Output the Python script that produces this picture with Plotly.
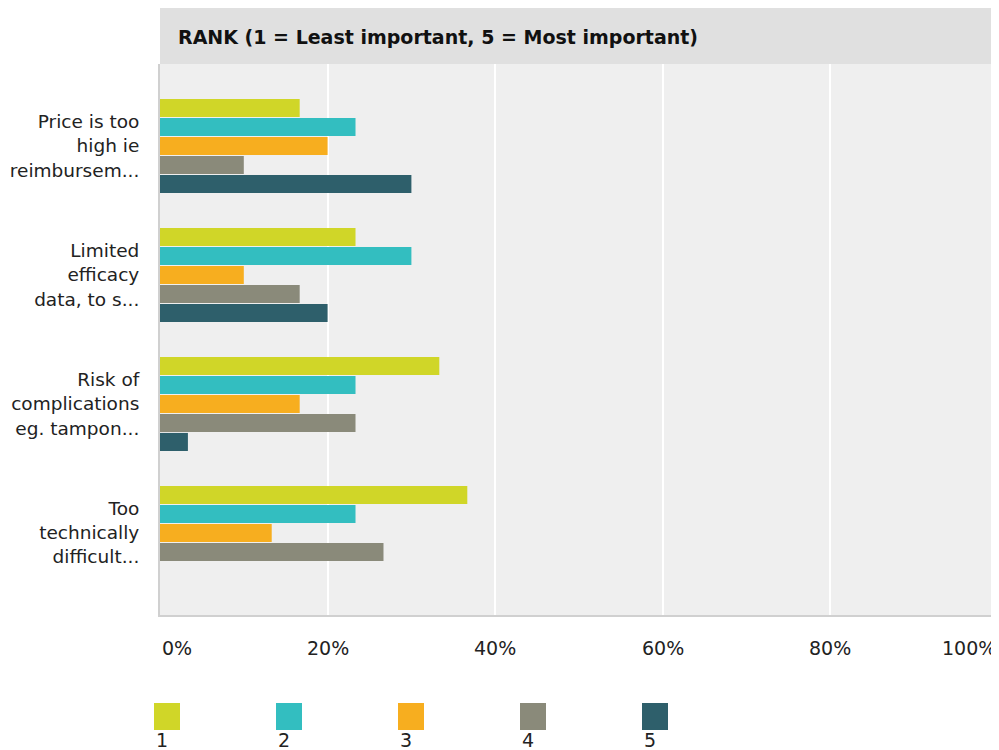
import plotly.graph_objects as go

categories = [
    "Price is too<br>high ie<br>reimbursem...",
    "Limited<br>efficacy<br>data, to s...",
    "Risk of<br>complications<br>eg. tampon...",
    "Too<br>technically<br>difficult...",
]
series_names = ["1", "2", "3", "4", "5"]
rank1 = [16.67, 23.33, 33.33, 36.67]
rank2 = [23.33, 30.0, 23.33, 23.33]
rank3 = [20.0, 10.0, 16.67, 13.33]
rank4 = [10.0, 16.67, 23.33, 26.67]
rank5 = [30.0, 20.0, 3.33, 0.0]
series_values = [rank1, rank2, rank3, rank4, rank5]
colors = ["#D0D628", "#33BEC0", "#F7AE1F", "#8A8A7A", "#2E5F6B"]
tick_vals = [0, 20, 40, 60, 80, 100]
tick_text = ["0%", "20%", "40%", "60%", "80%", "100%"]
title_text = "RANK (1 = Least important, 5 = Most important)"

# page body has an 8px margin; figure sized to fill the rest of the window
OFF = 8
W, H = 991, 742
L, R, T, B = 152, 1, 56, 135
PW = W - L - R
PH = H - T - B
FONT = "DejaVu Sans"


def px_x(p):
    return (p - OFF - L) / PW


def px_y(p):
    return (H - B - (p - OFF)) / PH


fig = go.Figure()
for name, vals, col in zip(series_names, series_values, colors):
    fig.add_trace(go.Bar(
        y=categories, x=vals, name=name, orientation="h",
        marker=dict(color=col, line=dict(width=0)),
        showlegend=False, hoverinfo="x+name",
    ))

shapes = [
    dict(type="rect", xref="paper", yref="paper", x0=0, x1=1,
         y0=1.0, y1=px_y(8), fillcolor="#E0E0E0", line=dict(width=0), layer="below"),
]
annotations = [
    dict(text="<b>" + title_text + "</b>", xref="paper", yref="paper",
         x=px_x(176), y=px_y(37), xanchor="left", yanchor="middle",
         showarrow=False, font=dict(family=FONT, size=19, color="#111111")),
]
for i, (tv, tt) in enumerate(zip(tick_vals, tick_text)):
    anchor = "left" if i == 0 else ("right" if i == len(tick_vals) - 1 else "center")
    annotations.append(dict(text=tt, xref="x", yref="paper", x=tv, y=px_y(648),
                            xanchor=anchor, yanchor="middle", showarrow=False,
                            font=dict(family=FONT, size=19, color="#222222")))
for i, (name, col) in enumerate(zip(series_names, colors)):
    x0 = 154 + i * 122
    shapes.append(dict(type="rect", xref="paper", yref="paper",
                       x0=px_x(x0), x1=px_x(x0 + 26), y0=px_y(730), y1=px_y(703),
                       fillcolor=col, line=dict(width=0)))
    annotations.append(dict(text=name, xref="paper", yref="paper", x=px_x(x0),
                            y=px_y(740), xanchor="left", yanchor="middle", showarrow=False,
                            font=dict(family=FONT, size=19, color="#222222")))

fig.update_layout(
    width=W, height=H,
    margin=dict(l=L, r=R, t=T, b=B, pad=0, autoexpand=False),
    paper_bgcolor="white", plot_bgcolor="#EFEFEF",
    barmode="group", bargap=0.264, bargroupgap=0.05,
    font=dict(family=FONT, size=19, color="#222222"),
    shapes=shapes, annotations=annotations,
    xaxis=dict(range=[0, 100], tickvals=tick_vals, showticklabels=False,
               showgrid=True, gridcolor="white", gridwidth=2, zeroline=False,
               showline=True, linecolor="#D0D0D0", linewidth=2, mirror=False,
               fixedrange=True, automargin=False),
    yaxis=dict(type="category", range=[3.636, -0.636], showgrid=False, zeroline=False,
               showline=True, linecolor="#D0D0D0", linewidth=2,
               ticks="outside", ticklen=15, tickcolor="rgba(0,0,0,0)",
               tickfont=dict(family=FONT, size=18.5, color="#222222"), fixedrange=True,
               automargin=False),
)

fig.write_html("out.html", config={"displayModeBar": False})
